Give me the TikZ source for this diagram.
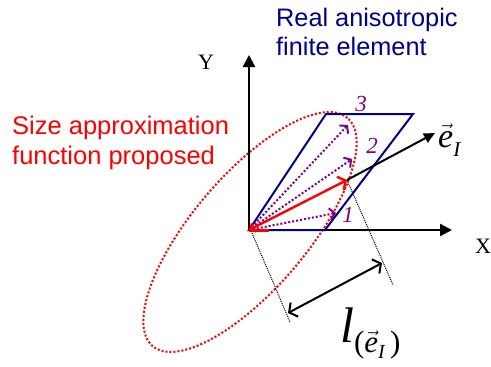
\documentclass[tikz,border=0pt]{standalone}
\usepackage{fontspec}
\usepackage{amsmath}
\setmainfont{Liberation Sans}
\newfontfamily\tms{Liberation Serif}
\usetikzlibrary{arrows.meta}
\definecolor{navyb}{RGB}{0,0,140}
\definecolor{purp}{RGB}{128,0,128}
\tikzset{
  axis/.style={line width=2.3pt,-{Triangle[length=12pt,width=12pt]}},
  elem/.style={draw=navyb,line width=2pt,line join=miter},
  dirvec/.style={purp,line width=2pt,dotted,-{Straight Barb[length=5pt,width=12pt]}},
  redvec/.style={red,line width=2.4pt,{Straight Barb[length=4pt,width=9pt]}-{Straight Barb[length=6pt,width=15pt]}},
  proj/.style={black,line width=1pt,densely dotted},
  numlab/.style={purp,font=\tms\itshape\fontsize{23}{23}\selectfont,inner sep=0pt},
  axlab/.style={font=\tms\fontsize{22}{22}\selectfont,inner sep=0pt},
}
\begin{document}
\begin{tikzpicture}[x=1pt,y=-1pt]
\useasboundingbox (0,0) rectangle (491,367);
% points
\coordinate (O) at (249,230);
\coordinate (A) at (325,230);
\coordinate (B) at (413,114);
\coordinate (C) at (326,114);
\coordinate (Yt) at (249,55);
\coordinate (Xt) at (452,230);
\coordinate (P) at (347,180);
\coordinate (E) at (435,133);
\coordinate (p1) at (336,213);
\coordinate (p2) at (352,159);
\coordinate (p3) at (348,125);
\coordinate (d1a) at (252,233);
\coordinate (d1b) at (290,322);
\coordinate (d2b) at (393,285);
\coordinate (la) at (288,313);
\coordinate (lb) at (382,263);
\coordinate (ec) at (250,232);
% ellipse
\draw[red,line width=2pt,dotted,rotate around={49.5:(ec)}] (ec) ellipse [x radius=150pt, y radius=57pt];
% axes
\draw[axis] (O) -- (Yt);
\draw[axis] (O) -- (Xt);
% element
\draw[elem] (O) -- (A) -- (B) -- (C) -- cycle;
% direction vectors
\draw[dirvec] (O) -- (p1);
\draw[dirvec] (O) -- (p2);
\draw[dirvec] (O) -- (p3);
% red vector
\draw[red,line width=3pt] (O) -- ++(20,0);
\draw[redvec] (O) -- (P);
% e_I
\draw[line width=2pt,-{Triangle[length=11pt,width=10pt]}] (P) -- (E);
% projections
\draw[proj] (d1a) -- (d1b);
\draw[proj] (P) -- (d2b);
\draw[line width=2pt,{Straight Barb[length=6pt,width=16pt]}-{Straight Barb[length=6pt,width=16pt]}] (la) -- (lb);
% labels
\node[axlab] (ylab) at (206,62) {Y};
\node[axlab] (xlab) at (483,246) {X};
\node[numlab] (n1) at (348,215) {1};
\node[numlab] (n2) at (372,146) {2};
\node[numlab] (n3) at (361,104) {3};
\node[anchor=base west,inner sep=0pt] (elab) at (438,147)
  {\tms\itshape\fontsize{34}{34}\selectfont $\vec{\text{\tms\itshape e}}$\raisebox{-9pt}{\fontsize{21}{21}\selectfont I}};
\node[anchor=base west,inner sep=0pt] (llab) at (340,342)
  {\tms\itshape\fontsize{50}{50}\selectfont l\raisebox{-10pt}{\fontsize{31}{31}\selectfont\upshape(\itshape$\vec{\text{\tms\itshape e}}$\raisebox{-6pt}{\fontsize{20}{20}\selectfont I}\,\upshape)}};
\node[anchor=north west,inner sep=0pt,align=left,text=navyb,font=\fontsize{25.3}{29}\selectfont] (real) at (276,8)
  {Real anisotropic\\finite element};
\node[anchor=north west,inner sep=0pt,align=left,text=red,font=\fontsize{25.5}{30}\selectfont] (size) at (12,116)
  {Size approximation\\function proposed};
\end{tikzpicture}
\end{document}
